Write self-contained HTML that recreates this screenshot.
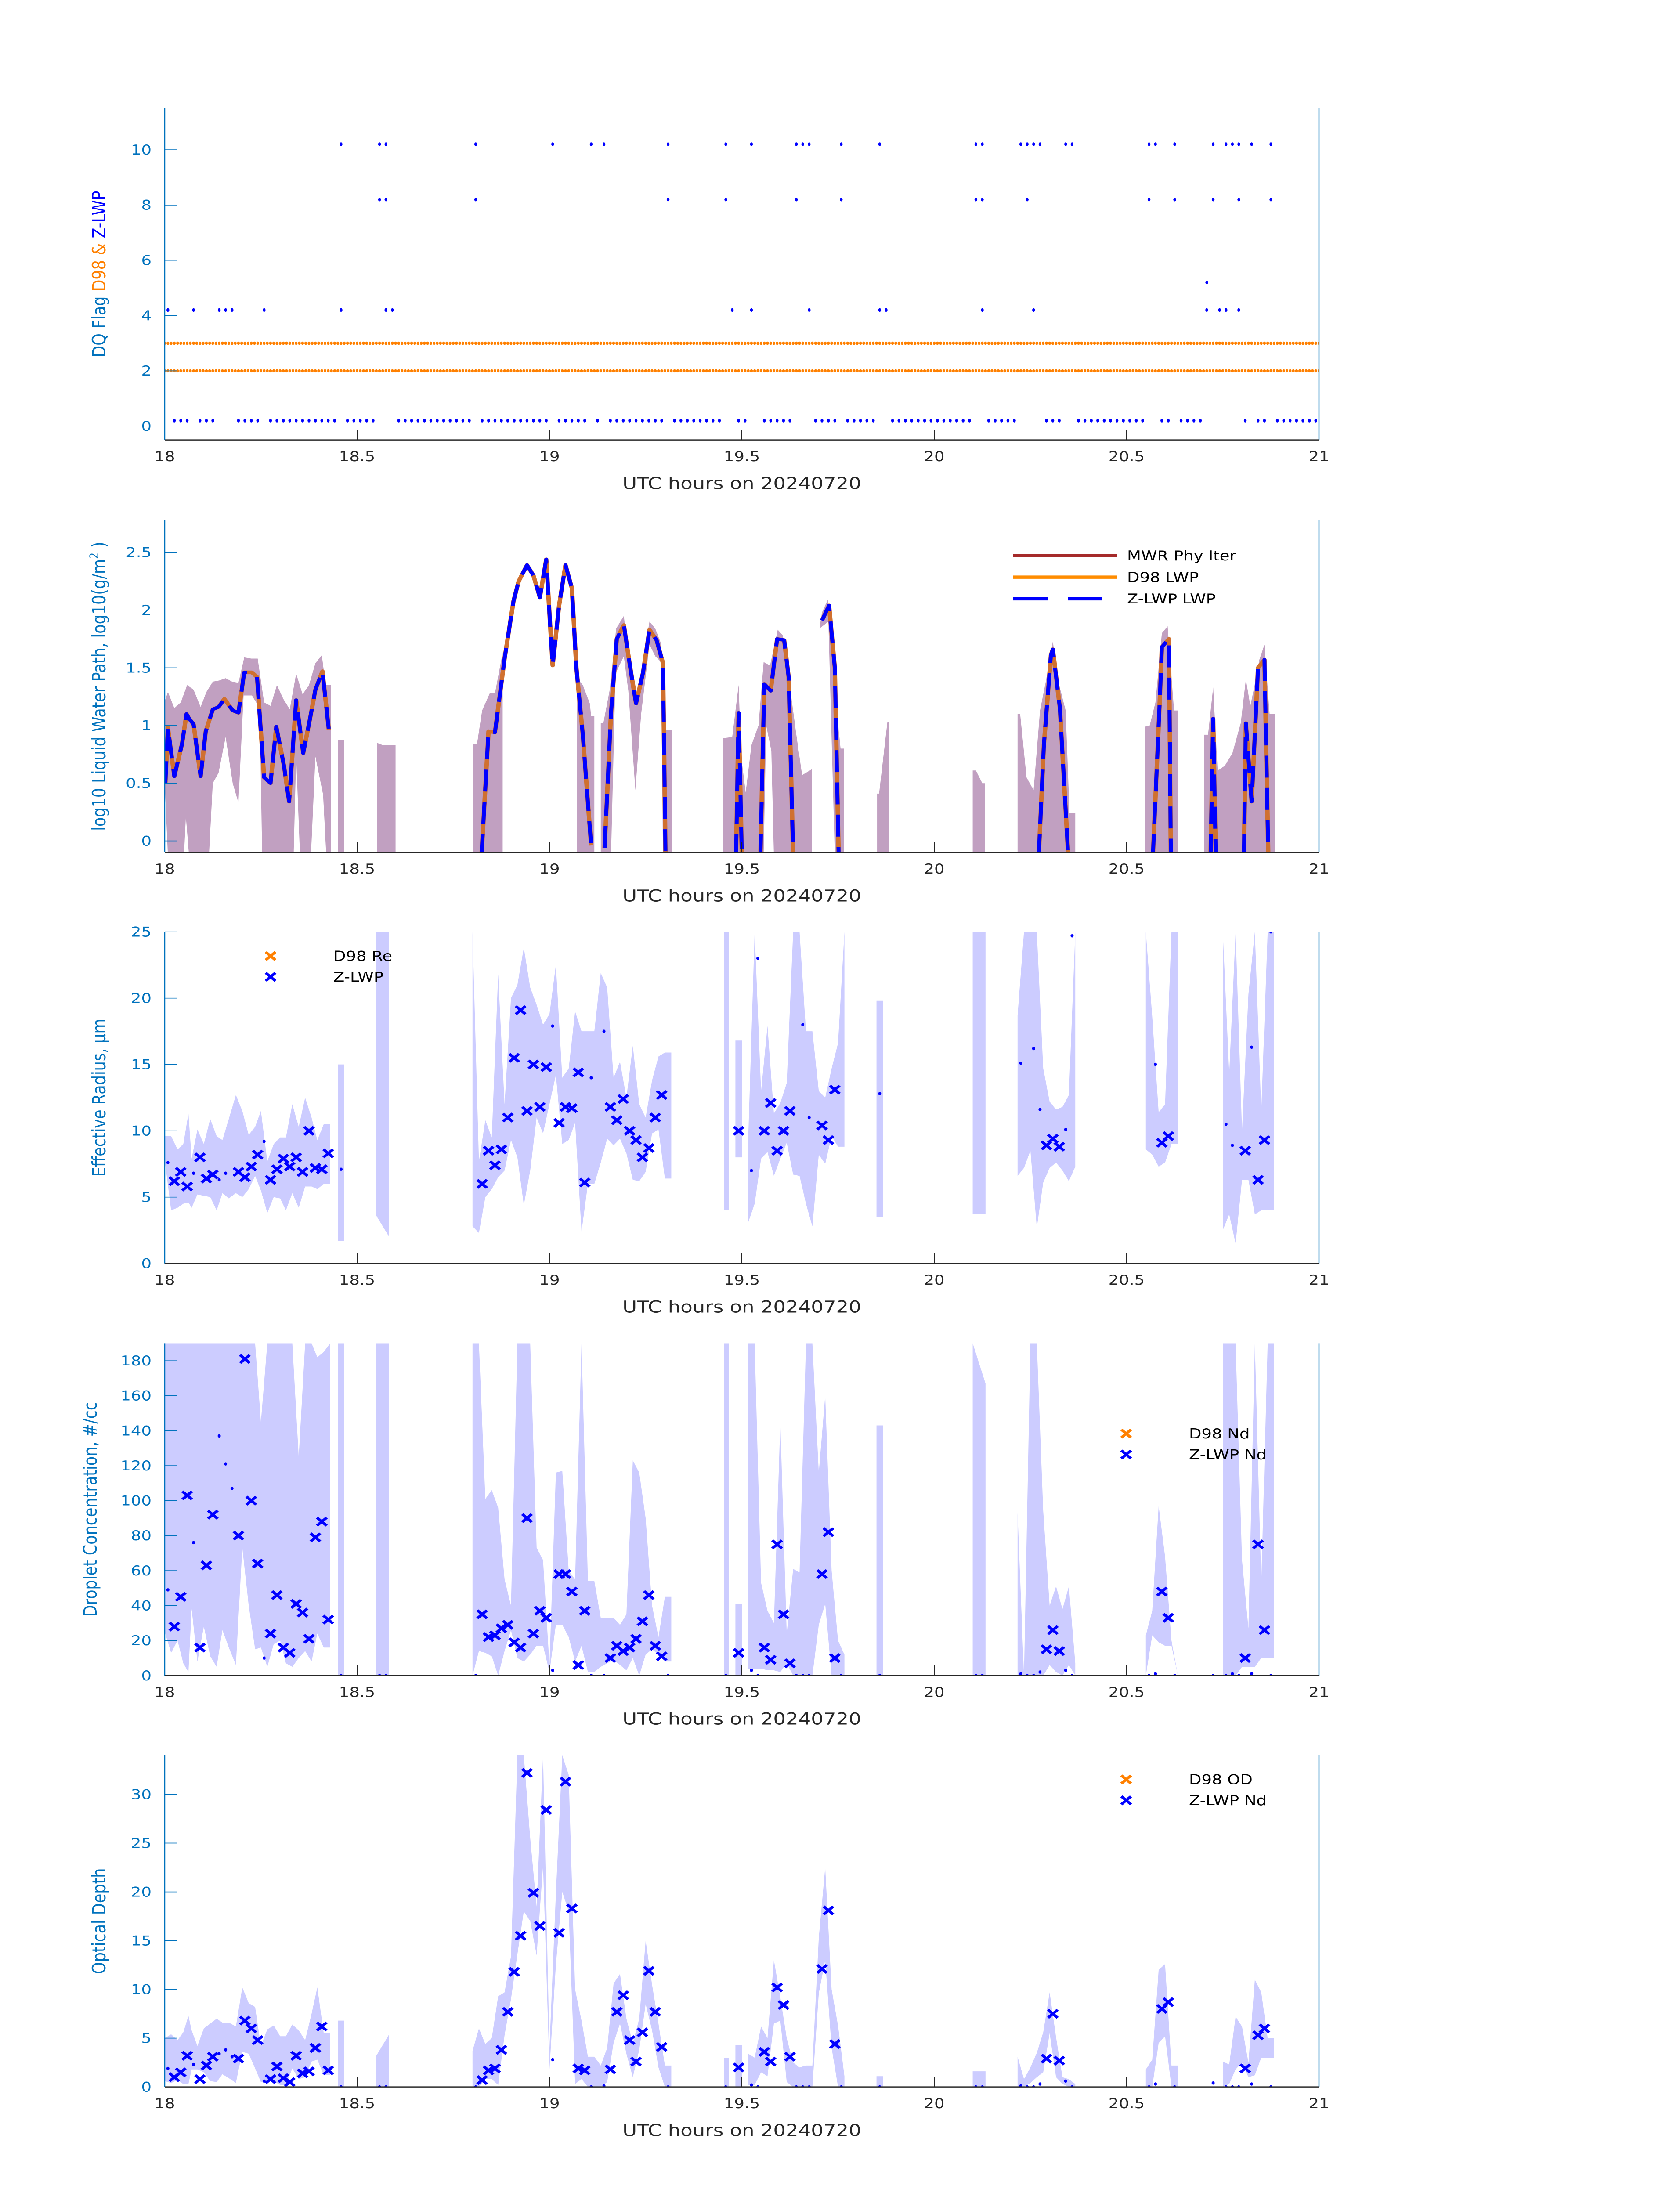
<!DOCTYPE html>
<html><head><meta charset="utf-8"><title>DQ flags and cloud retrievals, 20240720</title>
<style>
html,body{margin:0;padding:0;background:#fff;width:100vw;height:100vh;overflow:hidden;}
svg{display:block;position:absolute;left:0;top:0;width:100vw;height:100vh;font-family:"DejaVu Sans","Liberation Sans",sans-serif;}
</style></head>
<body>
<svg id="chart" xmlns="http://www.w3.org/2000/svg" viewBox="0 0 3825 6000" preserveAspectRatio="none">
<rect x="0" y="0" width="3825" height="6000" fill="#ffffff"/>
</svg>
<script>
// ---------- shared axis data ----------
const xTickHours = [18, 18.5, 19, 19.5, 20, 20.5, 21];
const xTickLabels = ['18', '18.5', '19', '19.5', '20', '20.5', '21'];
const p1YTicks = [0, 2, 4, 6, 8, 10];
const p2YTicks = [0, 0.5, 1, 1.5, 2, 2.5];
const p2YLabels = ['0', '0.5', '1', '1.5', '2', '2.5'];
const p3YTicks = [0, 5, 10, 15, 20, 25];
const p4YTicks = [0, 20, 40, 60, 80, 100, 120, 140, 160, 180];
const p5YTicks = [0, 5, 10, 15, 20, 25, 30];

// ---------- panel 1: DQ flags (minutes after 18 UTC) ----------
const zFlag0Ranges = [[1,3],[5,7],[11,14],[16,26],[28,32],[36,47],[49,59],[61,65],[67,67],[69,77],[79,86],[89,90],[93,97],[101,104],[106,110],[113,125],[128,132],[137,139],[142,152],[155,156],[158,161],[168,168],[170,171],[173,179]];
const zFlag4Min = [0,4,8,9,10,15,27,34,35,88,91,100,111,112,127,135,162,164,165,167];
const zFlag5Min = [162];
const zFlag8Min = [33,34,48,78,87,98,105,126,127,134,153,157,163,167,172];
const zFlag10Min = [27,33,34,48,60,66,68,78,87,91,98,99,100,105,111,126,127,133,134,135,136,140,141,153,154,157,163,165,166,167,169,172];
const d98FlagRows = [2, 3];

// ---------- panel 2: LWP ----------
const lwpSegMin = [
 [0.1,0.5,1.5,2.7,3.4,3.8,4.5,5.6,6.4,7.5,8.4,9.3,10.6,11.5,12.4,13.6,14.4,15.5,16.5,17.4,18.6,19.4,20.5,21.6,22.8,23.5,24.6,25.6],
 [49.4,50.5,51.5,53.0,54.4,55.2,56.5,57.5,58.5,59.5,60.1,60.5,61.5,62.5,63.5,64.2,65.2,66.5],
 [68.6,69.6,70.5,71.6,72.6,73.5,74.6,75.6,76.7,77.7,78.1],
 [89.1,89.5,90.0],
 [92.9,93.5,94.5,95.5,96.6,97.3,98.0],
 [102.5,103.6,104.5,105.1],
 [136.3,137.1,138.2,138.5,139.6,140.9],
 [154.1,155.2,155.5,156.6,156.9],
 [163.1,163.5,163.9],
 [168.3,168.6,169.5,170.5,171.5,172.1]];
const d98LwpSeg = [
 [0.5,0.98,0.56,0.84,1.10,1.06,1.01,0.56,0.95,1.14,1.16,1.23,1.13,1.11,1.46,1.46,1.42,0.55,0.50,0.99,0.65,0.34,1.22,0.76,1.10,1.31,1.47,0.96],
 [-0.13,0.95,0.94,1.58,2.08,2.25,2.39,2.30,2.11,2.44,1.88,1.52,2.04,2.39,2.19,1.50,0.92,-0.04],
 [-0.06,1.11,1.75,1.87,1.50,1.19,1.46,1.83,1.74,1.54,-0.13],
 [-0.13,1.11,-0.13],
 [-0.13,1.36,1.30,1.75,1.74,1.42,-0.13],
 [1.91,2.04,1.50,-0.13],
 [-0.13,0.83,1.61,1.66,1.15,-0.13],
 [-0.13,1.25,1.68,1.75,-0.13],
 [-0.13,1.06,-0.13],
 [-0.13,1.02,0.34,1.50,1.57,-0.13]];
const zLwpSeg = [
 [0.5,0.98,0.56,0.84,1.10,1.06,1.01,0.56,0.95,1.14,1.16,1.23,1.13,1.11,1.46,1.46,1.42,0.55,0.50,0.99,0.65,0.34,1.22,0.76,1.10,1.31,1.47,0.96],
 [-0.13,0.95,0.94,1.58,2.08,2.25,2.39,2.30,2.11,2.44,1.88,1.52,2.04,2.39,2.19,1.50,0.92,-0.04],
 [-0.06,1.11,1.75,1.87,1.50,1.19,1.46,1.83,1.74,1.54,-0.13],
 [-0.13,1.11,-0.13],
 [-0.13,1.36,1.30,1.75,1.74,1.42,-0.13],
 [1.91,2.04,1.50,-0.13],
 [-0.13,0.83,1.61,1.66,1.15,-0.13],
 [-0.13,1.25,1.68,1.75,-0.13],
 [-0.13,1.06,-0.13],
 [-0.13,1.02,0.34,1.50,1.57,-0.13]];
const lwpBandHiMin = [
 [0,0.5,1.5,2.5,3.5,4.5,5.6,6.5,7.5,8.5,9.5,10.5,11.5,12.4,13.5,14.5,15.5,16.5,17.5,18.5,19.5,20.5,21.5,22.5,23.5,24.5,25.1,25.9],
 [27,28],[33.1,34,36],
 [48.1,48.7,49.5,50.7,51.5,52.7],
 [64.3,65.2,66.3,66.5,67.0],
 [68.0,68.4,69.4,70.4,71.6,72.3,73.4,74.5,75.6,76.5,77.4,78.2,79.1],
 [87.1,88.5,89.5,89.9,90.6,91.5,92.6,93.4,94.4,95.6,96.4,97.3,98.5,99.4,100.9],
 [102.1,102.5,103.4,104.2,105.1,105.4,105.9],
 [111.1,111.4,112.7,113.0],
 [126.0,126.5,127.5,127.9],
 [133.0,133.4,134.4,135.5,136.5,137.4,138.5,139.3,140.5,141.1,142.0],
 [152.9,153.6,154.5,155.5,156.4,157.4,158.0],
 [162.1,162.7,163.5,164.2,165.3,166.5,167.8,168.6,169.3,170.0,170.7,171.5,172.3,173.1]];
const lwpBandHi = [
 [1.21,1.29,1.15,1.20,1.35,1.31,1.16,1.29,1.38,1.39,1.41,1.38,1.37,1.59,1.58,1.58,1.20,1.17,1.35,1.23,1.14,1.45,1.27,1.35,1.54,1.61,1.35,1.35],
 [0.87,0.87],[0.85,0.83,0.83],
 [0.84,0.84,1.13,1.28,1.28,1.63],
 [1.41,1.35,1.19,1.08,1.08],
 [1.02,1.02,1.31,1.84,1.95,1.61,1.17,1.54,1.90,1.84,1.71,0.96,0.96],
 [0.89,0.90,1.35,0.73,0.42,0.83,1.0,1.55,1.52,1.83,1.78,1.42,0.92,0.57,0.62],
 [1.84,1.98,2.09,1.77,0.96,0.80,0.80],
 [0.41,0.41,1.03,1.03],
 [0.61,0.61,0.50,0.50],
 [1.10,1.10,0.55,0.44,1.13,1.38,1.73,1.39,1.13,0.24,0.24],
 [0.99,1.0,1.20,1.80,1.86,1.13,1.13],
 [0.92,0.92,1.33,0.61,0.65,0.76,1.02,1.40,1.17,1.36,1.57,1.70,1.10,1.10]];
const lwpBandLoMin = [
 [0,0.5,3.0,3.3,3.8,6.9,7.5,8.4,9.5,10.6,11.5,12.3,13.6,14.8,15.2,20.1,20.5,21.1,22.8,23.5,24.7,25.2,25.9],
 [27,28],[33.1,36],
 [48.1,52.7],
 [64.3,67.0],
 [68.0,69.6,70.3,71.6,72.3,73.4,74.3,75.6,76.5,77.4,77.7,79.1],
 [87.1,93.4,93.8,94.6,95.0,100.9],
 [102.1,103.5,104.5,105.9],
 [111.1,113.0],
 [126.0,127.9],
 [133.0,142.0],
 [152.9,158.0],
 [162.1,173.1]];
const lwpBandLo = [
 [0.5,-0.13,-0.13,0.21,-0.13,-0.13,0.50,0.59,0.90,0.50,0.33,1.26,1.26,1.15,-0.13,-0.13,0.73,-0.13,-0.13,0.73,0.40,-0.13,-0.13],
 [-0.13,-0.13],[-0.13,-0.13],
 [-0.13,-0.13],
 [-0.13,-0.13],
 [-0.13,-0.13,1.45,1.6,1.3,0.44,1.1,1.7,1.6,1.55,-0.13,-0.13],
 [-0.13,-0.13,1.0,0.78,-0.13,-0.13],
 [1.84,1.9,-0.13,-0.13],
 [-0.13,-0.13],
 [-0.13,-0.13],
 [-0.13,-0.13],
 [-0.13,-0.13],
 [-0.13,-0.13]];

// ---------- panels 3-5: Z-LWP retrievals ----------
const zMin = [1.5,2.5,3.5,5.5,6.5,7.5,11.5,12.5,13.5,14.5,16.5,17.5,18.5,19.5,20.5,21.5,22.5,23.5,24.5,25.5,49.5,50.5,51.5,52.5,53.5,54.5,55.5,56.5,57.5,58.5,59.5,61.5,62.5,63.5,64.5,65.5,69.5,70.5,71.5,72.5,73.5,74.5,75.5,76.5,77.5,89.5,93.5,94.5,95.5,96.5,97.5,102.5,103.5,104.5,137.5,138.5,139.5,155.5,156.5,168.5,170.5,171.5];
const zRe = [6.2,6.9,5.8,8.0,6.4,6.7,6.9,6.5,7.3,8.2,6.3,7.1,7.9,7.3,8.0,6.9,10.0,7.2,7.1,8.3,6.0,8.5,7.4,8.6,11.0,15.5,19.1,11.5,15.0,11.8,14.8,10.6,11.8,11.7,14.4,6.1,11.8,10.8,12.4,10.0,9.3,8.0,8.7,11.0,12.7,10.0,10.0,12.1,8.5,10.0,11.5,10.4,9.3,13.1,8.9,9.4,8.8,9.1,9.6,8.5,6.3,9.3];
const zNd = [28,45,103,16,63,92,80,181,100,64,24,46,16,13,41,36,21,79,88,32,35,22,23,27,29,19,16,90,24,37,33,58,58,48,6,37,10,17,14,16,21,31,46,17,11,13,16,9,75,35,7,58,82,10,15,26,14,48,33,10,75,26];
const zOd = [1.0,1.5,3.2,0.8,2.2,3.1,2.9,6.8,6.0,4.8,0.8,2.1,0.9,0.5,3.2,1.4,1.6,4.0,6.2,1.7,0.7,1.7,1.9,3.8,7.7,11.8,15.5,32.2,19.9,16.5,28.4,15.8,31.3,18.3,1.9,1.7,1.8,7.7,9.4,4.8,2.6,5.6,11.9,7.7,4.1,2.0,3.6,2.6,10.2,8.4,3.1,12.1,18.1,4.4,2.9,7.5,2.7,8.0,8.7,1.9,5.3,6.0];
const dotMin = [0.5,4.5,8.5,9.5,10.5,15.5,27.5,33.5,34.5,48.5,60.5,66.5,68.5,78.5,87.5,91.5,92.5,98.5,99.5,100.5,105.5,111.5,126.5,127.5,133.5,134.5,135.5,136.5,140.5,141.5,153.5,154.5,157.5,163.5,165.5,166.5,167.5,169.5,172.5];
const dotRe = [7.6,6.8,6.3,6.8,null,9.2,7.1,null,null,null,17.9,14.0,17.5,null,null,7.0,23.0,null,18.0,11.0,null,12.8,null,null,15.1,null,16.2,11.6,10.1,24.7,null,15.0,null,null,10.5,8.9,null,16.3,25.0];
const dotNd = [49,76,137,121,107,10,0,0,0,0,3,0,0,0,0,3,0,0,0,0,0,0,0,0,1,0,0,2,3,0,0,1,0,0,0,1,0,1,0];
const dotOd = [1.9,2.3,3.4,3.8,3.1,0.6,0,0,0,0,2.8,0,0.1,0,0,0.2,0,0,0,0,0,0,0,0,0.1,0,0,0.3,0.6,0,0,0.3,0,0.4,0,0,0,0.3,0];

const bandMin = [
 [0,1,2,2.9,3.7,4.2,5.1,6.1,7.1,8.1,9,10,11.1,12.1,13.1,14.1,15,16,17,18,18.9,19.9,20.9,21.9,22.9,23.8,24.8,25.8],
 [27,28],[33,35],
 [48,49,50,51,52,53,54,55,56,57,58,59,60,61,62,63,64,65,66,67,68,69,70,71,72,73,74,75,76,77,78,79],
 [87.2,88],[89,90],
 [91,92,93,94,95,96,97,98,99,100,101,102,103,104,105,106],
 [111,112],[126,128],
 [133,134,135,136,137,138,139,140,141,142],
 [153,154,155,156,157,158],
 [165,166,167,168,169,170,171,172,173]];
const reLo = [
 [7.8,4.0,4.2,4.5,4.6,4.2,5.2,5.1,5.0,4.0,5.3,4.9,5.3,5.0,5.6,6.6,5.5,3.8,5.0,4.9,4.0,5.3,4.2,5.8,5.8,5.6,6.0,6.0],
 [1.7,1.7],[3.6,2.0],
 [2.8,2.3,5.0,5.6,6.5,7.0,9.3,8.0,4.4,7.0,11.0,9.8,12.0,14.2,9.0,9.3,10.6,2.4,6.0,6.0,7.6,9.4,8.9,9.4,8.3,6.3,6.2,6.9,9.8,10.1,6.4,6.4],
 [4,4],[8,8],
 [3.1,4.5,7.9,8.4,6.6,7.9,9.1,6.7,6.6,4.5,2.8,8.2,7.5,9.6,8.8,8.8],
 [3.5,3.5],[3.7,3.7],
 [6.6,7.2,8.5,2.7,6.1,7.2,7.6,7.0,6.2,7.3],
 [8.6,8.2,7.3,7.6,9.0,9.0],
 [2.5,3.7,1.5,6.3,6.3,3.7,4.0,4.0,4.0]];
const reHi = [
 [9.6,9.6,8.6,9.0,11.3,7.9,10.1,9.0,10.9,9.6,9.3,10.9,12.7,11.5,9.7,10.3,11.5,7.7,9.0,9.5,9.5,12.0,10.3,12.5,11.0,9.3,10.5,10.5],
 [15,15],[25,25],
 [25,7.7,10.8,9.5,21.8,12.0,20.0,21.0,23.8,20.8,19.5,18.0,18.8,22.5,14.0,14.7,19.0,17.5,17.5,17.5,21.9,20.8,14.0,15.2,12.5,16.4,12.0,11.0,13.8,15.6,15.9,15.9],
 [25,25],[16.8,16.8],
 [9.5,25,13.0,17.9,11.3,12.1,13.6,25,25,17.5,17.5,13.0,12.5,14.7,16.6,25],
 [19.8,19.8],[25,25],
 [18.7,25,25,25,14.7,12.2,11.6,11.8,12.7,25],
 [25,18.6,11.4,12.0,25,25],
 [25,14.3,25,10.0,20.3,25,11.5,25,25]];
const ndLo = [
 [25,13,20,7,2,38,8,28,11,5,26,16,6,73,40,15,16,5,18,20,7,5,10,14,8,24,16,16],
 [0,0],[0,0],
 [0,14,13,11,0,14,26,10,8,12,17,17,2,29,29,22,8,17,2,2,5,7,9,6,3,10,0,12,15,12,8,8],
 [0,0],[0,0],
 [4,4,4,3,3,2,7,0,0,0,0,29,41,0,0,0],
 [0,0],[0,0],
 [0,0,0,0,0,6,2,0,6,0],
 [0,23,19,17,17,0],
 [0,0,0,5,5,5,10,10,10]];
const ndHi = [
 [190,190,190,190,190,190,190,190,190,190,190,190,190,190,190,190,145,190,190,190,190,190,125,190,190,182,185,190],
 [190,190],[190,190],
 [190,190,101,106,96,55,40,190,190,190,73,66,6,116,117,60,55,190,54,54,33,33,33,29,35,123,116,90,40,22,45,45],
 [190,190],[41,41],
 [190,190,53,37,30,145,24,61,59,190,190,116,160,60,20,12],
 [143,143],[190,167],
 [93,0,190,190,94,40,51,38,51,7],
 [23,37,97,68,20,0],
 [190,190,190,66,27,190,53,190,190]];
const odLo = [
 [0.6,0.4,0.7,0.3,0.3,1.8,1.8,1.5,0.6,0.5,1.3,0.9,0.4,3.6,3.4,1.9,0.5,0.6,0.6,0.2,0.2,1.9,0.8,1.0,2.6,2.8,1.2,1.2],
 [0,0],[0,0],
 [0,0,0.8,0.8,0.2,5.3,9.0,13.6,18,17,13.5,22.7,1.8,12.5,20,18,0.3,0.8,0,0,0,0.5,4.5,6.5,3.4,1.0,3.8,8.5,5.8,2.0,0,0],
 [0,0],[0,0],
 [0.2,0.2,1.5,1.1,6.5,6.8,0.5,0,0,0,0,9.6,13,4.0,0,0],
 [0,0],[0,0],
 [0,0,0.4,1.0,1.5,5.5,1.0,0.3,0,0],
 [0,0,4.5,5.2,0,0],
 [0,0.3,1.8,2.5,1.0,1.2,3.0,3.0,3.0]];
const odHi = [
 [5.0,5.4,4.8,5.6,7.3,5.8,4.2,6.0,6.5,7.0,6.6,6.6,6.2,10.2,8.6,8.2,4.2,5.9,6.3,5.2,5.2,6.4,5.8,4.8,7.5,10.2,5.5,5.5],
 [6.8,6.8],[3.2,5.4],
 [3.7,6.0,4.4,5.0,9.3,9.7,13.4,34,34,25.5,18.5,34,4.0,19.8,34,32,10,6.8,3.1,3.1,2.2,4.0,10.6,11.6,7.0,4.5,7.0,15.0,10.5,6.5,2.2,2.2],
 [3,3],[4.3,4.3],
 [3.4,3.0,6.2,5.0,13.0,9.2,5.0,2.5,2.0,2.2,2.2,15.3,22.5,10,6.3,1.1],
 [1.1,1.1],[1.6,1.6],
 [3.1,0.8,2.0,3.5,5.6,9.7,5.1,1.0,0.8,0.3],
 [1.8,2.8,12,12.6,2.2,2.2],
 [2.6,2.3,7.2,6.2,2.5,11.0,9.7,5.0,5.0]];

// ---------- drawing ----------
const NS = 'http://www.w3.org/2000/svg';
const svg = document.getElementById('chart');
const AX_L = 375, AX_R = 3003;
const PANELS = [
  {top:296, bot:1202, y0:-0.5, y1:11.5},
  {top:1421, bot:2329, y0:-0.1, y1:2.78},
  {top:2546, bot:3452, y0:0, y1:25},
  {top:3670, bot:4578, y0:0, y1:190},
  {top:4796, bot:5702, y0:0, y1:34}];
function xm(m){ return AX_L + (m / 180) * (AX_R - AX_L); }
function xh(h){ return xm((h - 18) * 60); }
function yv(p, v){ return p.bot - (v - p.y0) / (p.y1 - p.y0) * (p.bot - p.top); }
function mk(tag, attrs, parent){
  const e = document.createElementNS(NS, tag);
  for (const k in attrs) e.setAttribute(k, attrs[k]);
  (parent || svg).appendChild(e);
  return e;
}

const defs = mk('defs', {});
PANELS.forEach((p, i) => {
  const cp = mk('clipPath', {id: 'clip' + i}, defs);
  mk('rect', {x: AX_L, y: p.top, width: AX_R - AX_L, height: p.bot - p.top}, cp);
});

function drawAxes(i, yTicks, yLabels, name){
  const p = PANELS[i];
  const g = mk('g', {});
  
  
  xTickHours.forEach((h, k) => {
    const t = mk('line', {x1: xh(h), x2: xh(h), y1: p.bot, y2: p.bot - 28, stroke: '#262626', 'stroke-width': 2}, g);
    
    
    const lb = mk('text', {x: xh(h), y: p.bot + 58, 'text-anchor': 'middle', 'font-size': 37, fill: '#262626'}, g);
    lb.textContent = xTickLabels[k];
    
    
  });
  yTicks.forEach((v, k) => {
    const t = mk('line', {x1: AX_L, x2: AX_L + 28, y1: yv(p, v), y2: yv(p, v), stroke: '#0072bd', 'stroke-width': 2}, g);
    
    
    const lb = mk('text', {x: 345, y: yv(p, v) + 13, 'text-anchor': 'end', 'font-size': 37, fill: '#0072bd'}, g);
    lb.textContent = yLabels ? yLabels[k] : String(v);
    
    
  });
  const la = mk('line', {x1: AX_L, x2: AX_L, y1: p.top, y2: p.bot, stroke: '#0072bd', 'stroke-width': 2.5}, g);
  
  
  const ra = mk('line', {x1: AX_R, x2: AX_R, y1: p.top, y2: p.bot, stroke: '#0072bd', 'stroke-width': 2.5}, g);
  
  
  const ba = mk('line', {x1: AX_L, x2: AX_R, y1: p.bot, y2: p.bot, stroke: '#262626', 'stroke-width': 3}, g);
  
  
  const xl = mk('text', {x: (AX_L + AX_R) / 2, y: p.bot + 134, 'text-anchor': 'middle', 'font-size': 45, fill: '#262626'}, g);
  xl.textContent = 'UTC hours on 20240720';
  
  
}
function yTitle(i, cx, parts, name){
  const p = PANELS[i];
  const cy = (p.top + p.bot) / 2;
  const t = mk('text', {x: cx, y: cy, 'text-anchor': 'middle', 'font-size': 42, transform: 'rotate(-90 ' + cx + ' ' + cy + ')'});
  
  
  parts.forEach(pt => {
    const s = mk('tspan', {fill: pt[1]}, t);
    if (pt[2]) s.setAttribute('baseline-shift', 'super');
    if (pt[2]) s.setAttribute('font-size', '28');
    s.textContent = pt[0];
  });
}
function plotGroup(i, name){
  const g = mk('g', {'clip-path': 'url(#clip' + i + ')'});
  
  
  return g;
}
function xMarker(g, x, y, color, name){
  const d = 'M' + (x - 11) + ' ' + (y - 11) + 'L' + (x + 11) + ' ' + (y + 11) + 'M' + (x - 11) + ' ' + (y + 11) + 'L' + (x + 11) + ' ' + (y - 11);
  const e = mk('path', {d: d, stroke: color, 'stroke-width': 7, fill: 'none'}, g);
  
  
}
function band(g, i, mins, lo, hi, color, name){
  const p = PANELS[i];
  mins.forEach((ms, s) => {
    let pts = ms.map((m, k) => xm(m) + ',' + yv(p, hi[s][k]));
    pts = pts.concat(ms.map((m, k) => xm(m) + ',' + yv(p, lo[s][k])).reverse());
    const e = mk('polygon', {points: pts.join(' '), fill: color}, g);
    
    
  });
}

// ----- Panel 1 -----
(function(){
  const p = PANELS[0];
  const g = plotGroup(0, 'dq-flag-plot');
  d98FlagRows.forEach(v => {
    for (let m = 0; m <= 180; m += 0.5) {
      const c = mk('ellipse', {cx: xm(m), cy: yv(p, v), rx: 3.2, ry: 4.5, fill: '#ff8000'}, g);
      
      
    }
  });
  function zdot(m, flag){
    const c = mk('ellipse', {cx: xm(m + 0.5), cy: yv(p, flag + 0.2), rx: 3.2, ry: 5, fill: '#0000ff'}, g);
    
    
  }
  zFlag0Ranges.forEach(r => { for (let m = r[0]; m <= r[1]; m++) zdot(m, 0); });
  zFlag4Min.forEach(m => zdot(m, 4));
  zFlag5Min.forEach(m => zdot(m, 5));
  zFlag8Min.forEach(m => zdot(m, 8));
  zFlag10Min.forEach(m => zdot(m, 10));
  drawAxes(0, p1YTicks, null, 'dq-flag');
  yTitle(0, 240, [['DQ Flag  ', '#0072bd'], ['D98 &  ', '#ff8000'], ['Z-LWP', '#0000ff']], 'dq-flag-y-title');
})();

// ----- Panel 2 -----
(function(){
  const p = PANELS[1];
  const g = plotGroup(1, 'lwp-plot');
  lwpBandHiMin.forEach((ms, s) => {
    let pts = ms.map((m, k) => xm(m) + ',' + yv(p, lwpBandHi[s][k]));
    const lm = lwpBandLoMin[s];
    pts = pts.concat(lm.map((m, k) => xm(m) + ',' + yv(p, lwpBandLo[s][k])).reverse());
    const e = mk('polygon', {points: pts.join(' '), fill: '#c1a0c1'}, g);
    
    
  });
  lwpSegMin.forEach((ms, s) => {
    const pts = ms.map((m, k) => xm(m) + ',' + yv(p, d98LwpSeg[s][k])).join(' ');
    const e = mk('polyline', {points: pts, fill: 'none', stroke: '#d0702f', 'stroke-width': 10, 'stroke-linejoin': 'round'}, g);
    
    
  });
  lwpSegMin.forEach((ms, s) => {
    const pts = ms.map((m, k) => xm(m) + ',' + yv(p, zLwpSeg[s][k])).join(' ');
    const e = mk('polyline', {points: pts, fill: 'none', stroke: '#0000ff', 'stroke-width': 9, 'stroke-dasharray': '60 28', 'stroke-linejoin': 'round'}, g);
    
    
  });
  drawAxes(1, p2YTicks, p2YLabels, 'lwp');
  yTitle(1, 240, [['log10 Liquid Water Path, log10(g/m', '#0072bd'], ['2', '#0072bd', true], [' )', '#0072bd']], 'lwp-y-title');
  const leg = mk('g', {});
  
  
  const items = [['MWR Phy Iter', '#a52a2a', null], ['D98 LWP', '#ff8c00', null], ['Z-LWP LWP', '#0000ff', '78 46']];
  items.forEach((it, k) => {
    const y = 1518 + k * 59;
    const l = mk('line', {x1: 2307, x2: 2543, y1: y, y2: y, stroke: it[1], 'stroke-width': 9}, leg);
    if (it[2]) l.setAttribute('stroke-dasharray', it[2]);
    
    
    const t = mk('text', {x: 2566, y: y + 13, 'font-size': 37, fill: '#000'}, leg);
    t.textContent = it[0];
    
    
  });
})();

// ----- Panels 3-5 -----
function retrievalPanel(i, vals, dots, lo, hi, yTicks, title, legendLabels, legX, legY, name){
  const p = PANELS[i];
  const g = plotGroup(i, name + '-plot');
  band(g, i, bandMin, lo, hi, '#ccccff', name + '-uncertainty-band');
  dotMin.forEach((m, k) => {
    if (dots[k] === null) return;
    const c = mk('ellipse', {cx: xm(m), cy: yv(p, dots[k]), rx: 3.5, ry: 4.5, fill: '#0000ff'}, g);
    
    
  });
  zMin.forEach((m, k) => xMarker(g, xm(m), yv(p, vals[k]), '#0000ff', name + '-zlwp-marker'));
  drawAxes(i, yTicks, null, name);
  yTitle(i, title[1], [[title[0], '#0072bd']], name + '-y-title');
  const leg = mk('g', {});
  
  
  [['#ff8000', legendLabels[0]], ['#0000ff', legendLabels[1]]].forEach((it, k) => {
    const y = legY + k * 57;
    xMarker(leg, legX, y, it[0], 'legend-marker');
    const t = mk('text', {x: legX + 143, y: y + 13, 'font-size': 37, fill: '#000'}, leg);
    t.textContent = it[1];
    
    
  });
}
retrievalPanel(2, zRe, dotRe, reLo, reHi, p3YTicks, ['Effective Radius, µm', 240], ['D98 Re', 'Z-LWP'], 616, 2612, 'effective-radius');
retrievalPanel(3, zNd, dotNd, ndLo, ndHi, p4YTicks, ['Droplet Concentration, #/cc', 220], ['D98 Nd', 'Z-LWP Nd'], 2564, 3917, 'droplet-concentration');
retrievalPanel(4, zOd, dotOd, odLo, odHi, p5YTicks, ['Optical Depth', 240], ['D98 OD', 'Z-LWP Nd'], 2564, 4862, 'optical-depth');
</script>
</body></html>
